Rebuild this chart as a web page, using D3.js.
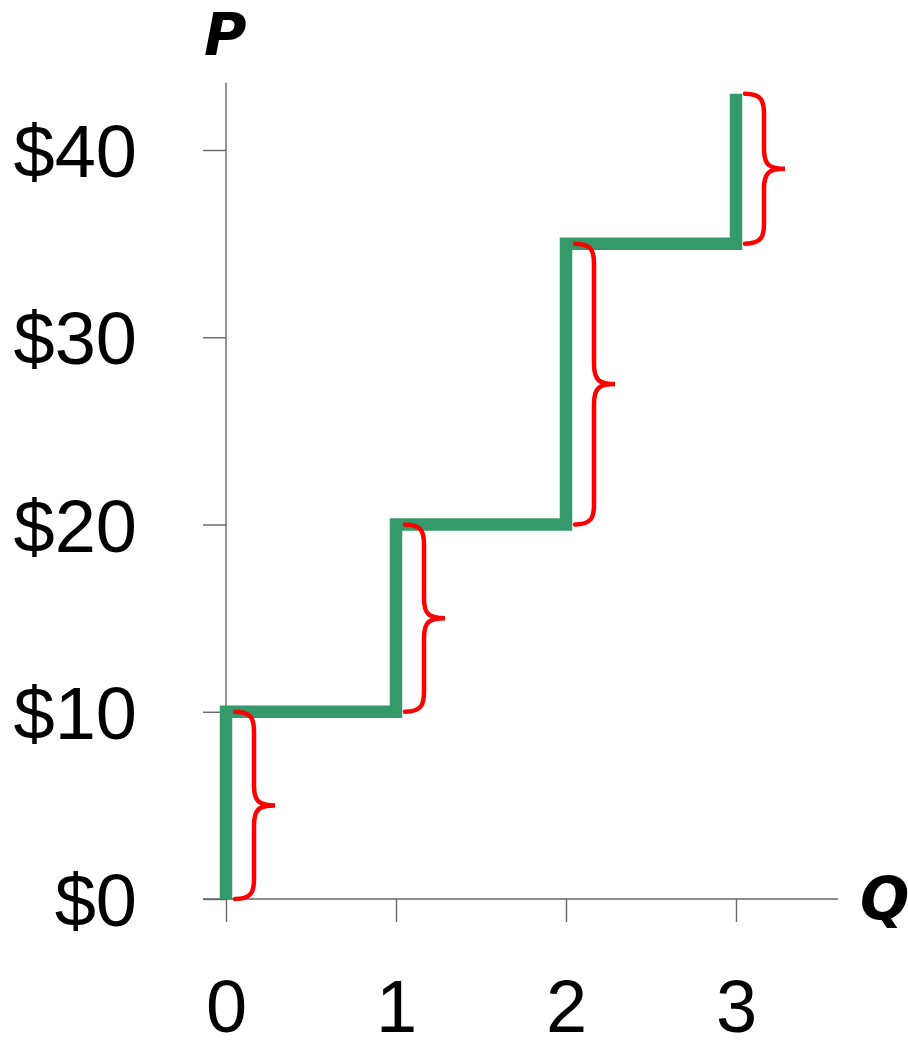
<!DOCTYPE html>
<html>
<head>
<meta charset="utf-8">
<script src="https://cdn.jsdelivr.net/npm/d3@7"></script>
<style>
  body { margin: 0; background: #fff; }
  .axis text { font-family: "Liberation Sans", Arial, sans-serif; font-size: 74px; fill: #000; }
  .axis line { stroke: #666; stroke-width: 1.4; }
  .label { font-family: "DejaVu Sans", sans-serif; font-weight: bold; font-style: italic; font-size: 58px; }
</style>
</head>
<body>
<div id="chart"></div>
<script>
// values
const priceTicks = [0, 10, 20, 30, 40];
const quantityTicks = [0, 1, 2, 3];

// supply steps (Q, P)
const stepQ = [0, 0, 1, 1, 2, 2, 3, 3];
const stepP = [0, 10, 10, 20, 20, 35, 35, 43];

// red braces next to each vertical rise
const braceQ = [0, 1, 2, 3];
const braceLow = [0, 10, 20, 35];
const braceHigh = [10, 20, 35, 43];

// frame
const FRAME_WIDTH = 908;
const FRAME_HEIGHT = 1042;
const TICK = 23;

const svg = d3.select("#chart")
  .append("svg")
    .attr("width", FRAME_WIDTH)
    .attr("height", FRAME_HEIGHT);

const x = d3.scaleLinear().domain([0, 3]).range([226, 736]);
const y = d3.scaleLinear().domain([0, 40]).range([899, 150]);

// y axis
const yAxis = svg.append("g")
    .attr("class", "axis")
    .attr("transform", "translate(" + x(0) + ",0)")
    .call(d3.axisLeft(y).tickValues(priceTicks).tickSize(TICK).tickPadding(66)
      .tickFormat(d => "$" + d));
yAxis.select(".domain").remove();
yAxis.selectAll("text").attr("dy", "0.36em");

// x axis
const xAxis = svg.append("g")
    .attr("class", "axis")
    .attr("transform", "translate(0," + y(0) + ")")
    .call(d3.axisBottom(x).tickValues(quantityTicks).tickSize(TICK).tickPadding(57)
      .tickFormat(d3.format("d")));
xAxis.select(".domain").remove();
xAxis.selectAll("text").attr("dy", "0.72em");

// axis lines
svg.append("line")
    .attr("x1", x(0)).attr("x2", x(0))
    .attr("y1", y(43.6)).attr("y2", y(0))
    .attr("stroke", "#666").attr("stroke-width", 1.4);
svg.append("line")
    .attr("x1", x(0) - TICK).attr("x2", x(3.6))
    .attr("y1", y(0)).attr("y2", y(0))
    .attr("stroke", "#666").attr("stroke-width", 1.4);

// axis labels
svg.append("text").attr("class", "label")
    .attr("x", x(0) - 22).attr("y", 55).text("P");
svg.append("text").attr("class", "label")
    .attr("x", x(3.6) + 22).attr("y", y(0) + 20).text("Q");

// supply step line
svg.append("path")
    .datum(d3.range(stepQ.length))
    .attr("fill", "none")
    .attr("stroke", "#359a69")
    .attr("stroke-width", 12.5)
    .attr("stroke-linejoin", "miter")
    .attr("d", d3.line()
      .x(i => x(stepQ[i]))
      .y(i => y(stepP[i])));

// braces
function bracePath(i) {
  const x0 = x(braceQ[i]) + 9;
  const xs = x0 + 19;
  const xt = x0 + 40;
  const y0 = y(braceHigh[i]);
  const y1 = y(braceLow[i]);
  const ym = (y0 + y1) / 2;
  const r = Math.min(20, (y1 - y0) / 4);
  return "M" + x0 + "," + y0 +
    " C" + (xs - 2) + "," + y0 + " " + xs + "," + (y0 + r * 0.4) + " " + xs + "," + (y0 + r) +
    " L" + xs + "," + (ym - r) +
    " C" + xs + "," + (ym - 3) + " " + (xs + 6) + "," + ym + " " + xt + "," + ym +
    " C" + (xs + 6) + "," + ym + " " + xs + "," + (ym + 3) + " " + xs + "," + (ym + r) +
    " L" + xs + "," + (y1 - r) +
    " C" + xs + "," + (y1 - r * 0.4) + " " + (xs - 2) + "," + y1 + " " + x0 + "," + y1;
}

svg.append("g")
  .selectAll("path")
  .data(d3.range(braceQ.length))
  .enter()
  .append("path")
    .attr("fill", "none")
    .attr("stroke", "#ff0000")
    .attr("stroke-width", 4.5)
    .attr("stroke-linecap", "round")
    .attr("d", bracePath);
</script>
</body>
</html>
